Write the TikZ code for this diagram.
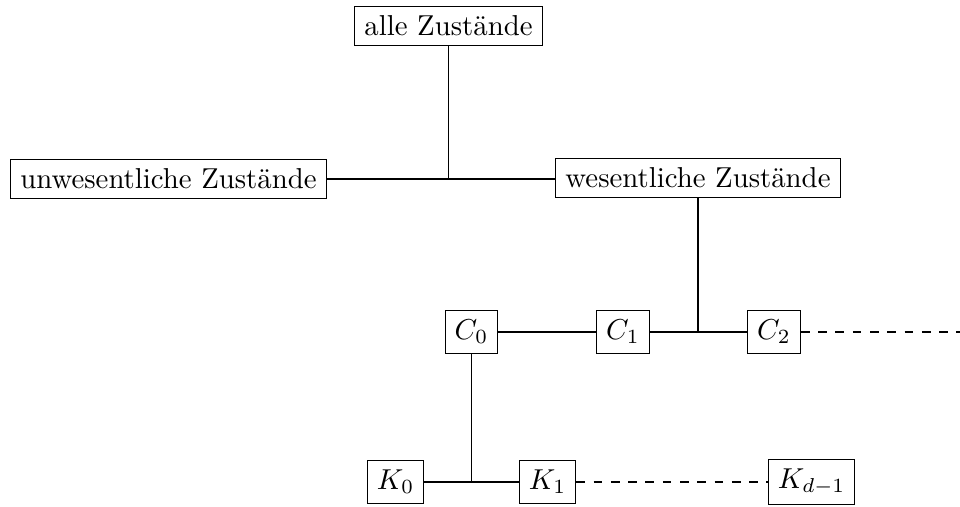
\documentclass[tikz,border=0pt]{standalone}
\begin{document}
\begin{tikzpicture}[x=0.3472pt,y=-0.3472pt,
  box/.style={draw,inner sep=0.3333em},
  conn/.style={draw},
  dconn/.style={draw,dashed}]
\useasboundingbox (0,0) rectangle (960,507);
\node[box] (alle) at (448.5,26) {alle Zustände};
\node[box] (unw) at (168.5,179) {unwesentliche Zustände};
\node[box] (wes) at (698,178) {wesentliche Zustände};
\node[box] (c0) at (471.5,332) {$C_0$};
\node[box] (c1) at (623,332) {$C_1$};
\node[box] (c2) at (774,332) {$C_2$};
\node[box] (k0) at (395.5,482) {$K_0$};
\node[box] (k1) at (547.5,482) {$K_1$};
\node[box] (kd) at (811.5,482) {$K_{d-1}$};
\coordinate (j1) at (448.5,179);
\coordinate (j2) at (698,332);
\coordinate (j3) at (471.5,482);
\coordinate (cend) at (960,332);
\draw (unw.east) -- (j1) -- (wes.west |- j1);
\draw (alle.south) -- (j1);
\draw (c0) -- (c1);
\draw (c1) -- (c2);
\draw (wes.south) -- (j2);
\draw[dashed] (c2.east) -- (cend);
\draw (k0) -- (k1);
\draw (c0.south) -- (j3);
\draw[dashed] (k1) -- (kd);
\end{tikzpicture}
\end{document}
